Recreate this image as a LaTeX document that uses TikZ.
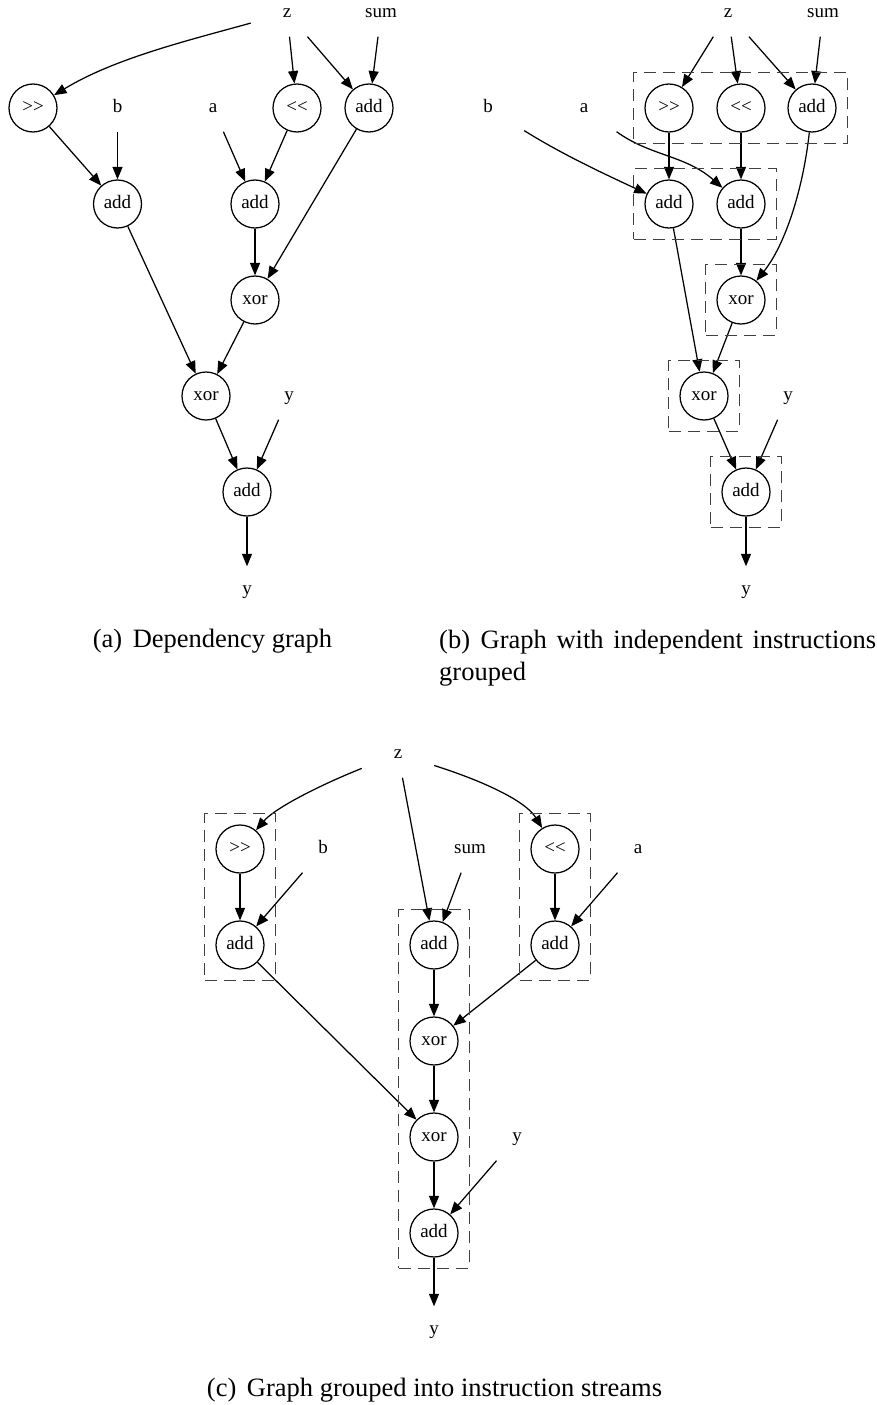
\documentclass[tikz,border=0pt]{standalone}
\usepackage{fontspec}
\setmainfont{Liberation Serif}
\usetikzlibrary{arrows.meta,fit}
\newcommand\mynodefont{\fontsize{19}{22}\selectfont}
\newcommand\mycapfont{\fontsize{26.5}{32}\selectfont}
\begin{document}
\begin{tikzpicture}[x=1pt,y=-1pt,
  op/.style={draw, circle, minimum size=48pt, inner sep=0pt, line width=1.25pt, font=\mynodefont, text height=13pt, text depth=4pt},
  lbl/.style={rectangle, minimum width=72pt, minimum height=47pt, inner sep=0pt, font=\mynodefont, text height=13pt, text depth=4pt},
  edge/.style={line width=1.25pt, -{Triangle[length=12.5pt,width=10pt]}},
  grp/.style={draw=black!75, line width=1.2pt, dash pattern=on 12pt off 7pt, inner sep=10.5pt},
  captext/.style={font=\mycapfont, inner sep=0pt}
]
\useasboundingbox (0,0) rectangle (876,1405);

% ---------------- panel (a) ----------------
\node[lbl] (az) at (287,13) {z};
\node[lbl] (asum) at (381,13) {sum};
\node[op] (ashr) at (33,108) {>\kern0pt>};
\node[lbl] (ab) at (117.5,108) {b};
\node[lbl] (aa) at (213,108) {a};
\node[op] (ashl) at (297,108) {<\kern0pt<};
\node[op] (aadds) at (369,108) {add};
\node[op] (aadd1) at (117.5,204) {add};
\node[op] (aadd2) at (255,204) {add};
\node[op] (axor1) at (255,300) {xor};
\node[op] (axor2) at (206,396) {xor};
\node[lbl] (ay) at (289,396) {y};
\node[op] (aadd3) at (247,492) {add};
\node[lbl] (ayo) at (247,590) {y};

\draw[edge] (az) .. controls (190,40) and (115,58) .. (ashr);
\draw[edge] (az) -- (ashl);
\draw[edge] (az) -- (aadds);
\draw[edge] (asum) -- (aadds);
\draw[edge] (ashr) -- (aadd1);
\draw[edge] (ab) -- (aadd1);
\draw[edge] (aa) -- (aadd2);
\draw[edge] (ashl) -- (aadd2);
\draw[edge] (aadds) -- (axor1);
\draw[edge] (aadd2) -- (axor1);
\draw[edge] (aadd1) -- (axor2);
\draw[edge] (axor1) -- (axor2);
\draw[edge] (axor2) -- (aadd3);
\draw[edge] (ay) -- (aadd3);
\draw[edge] (aadd3) -- (ayo);

% ---------------- panel (b) ----------------
\node[lbl] (bz) at (728,13) {z};
\node[lbl] (bsum) at (823,13) {sum};
\node[lbl] (bb) at (488,108) {b};
\node[lbl] (ba) at (584,108) {a};
\node[op] (bshr) at (669,108) {>\kern0pt>};
\node[op] (bshl) at (741,108) {<\kern0pt<};
\node[op] (badds) at (812,108) {add};
\node[op] (badd1) at (669,204) {add};
\node[op] (badd2) at (741,204) {add};
\node[op] (bxor1) at (741,300) {xor};
\node[op] (bxor2) at (704,396) {xor};
\node[lbl] (by) at (788,396) {y};
\node[op] (badd3) at (746,492) {add};
\node[lbl] (byo) at (746,590) {y};

\draw[edge] (bz) -- (bshr);
\draw[edge] (bz) -- (bshl);
\draw[edge] (bz) -- (badds);
\draw[edge] (bsum) -- (badds);
\draw[edge] (bb) .. controls (560,153) and (600,172) .. (badd1);
\draw[edge] (ba) .. controls (650,156) and (685,155) .. (badd2);
\draw[edge] (bshr) -- (badd1);
\draw[edge] (bshl) -- (badd2);
\draw[edge] (badds) .. controls (803,190) and (785,245) .. (bxor1);
\draw[edge] (badd1) -- (bxor2);
\draw[edge] (badd2) -- (bxor1);
\draw[edge] (bxor1) -- (bxor2);
\draw[edge] (bxor2) -- (badd3);
\draw[edge] (by) -- (badd3);
\draw[edge] (badd3) -- (byo);

\node[grp, fit=(bshr)(badds)] (bg1) {};
\node[grp, fit=(badd1)(badd2)] (bg2) {};
\node[grp, fit=(bxor1)] (bg3) {};
\node[grp, fit=(bxor2)] (bg4) {};
\node[grp, fit=(badd3)] (bg5) {};

% ---------------- panel (c) ----------------
\node[lbl] (cz) at (398,754) {z};
\node[op] (cshr) at (240,849) {>\kern0pt>};
\node[lbl] (cb) at (323,849) {b};
\node[lbl] (csum) at (470,849) {sum};
\node[op] (cshl) at (555,849) {<\kern0pt<};
\node[lbl] (ca) at (638,849) {a};
\node[op] (caddb) at (240,945) {add};
\node[op] (cadds) at (434,945) {add};
\node[op] (cadda) at (555,945) {add};
\node[op] (cxor1) at (434,1041) {xor};
\node[op] (cxor2) at (434,1137) {xor};
\node[lbl] (cy) at (517,1137) {y};
\node[op] (cadd3) at (434,1233) {add};
\node[lbl] (cyo) at (434,1330) {y};

\draw[edge] (cz) .. controls (320,785) and (275,808) .. (cshr);
\draw[edge] (cz) -- (cadds);
\draw[edge] (cz) .. controls (480,780) and (525,800) .. (cshl);
\draw[edge] (cshr) -- (caddb);
\draw[edge] (cb) -- (caddb);
\draw[edge] (csum) -- (cadds);
\draw[edge] (cshl) -- (cadda);
\draw[edge] (ca) -- (cadda);
\draw[edge] (cadds) -- (cxor1);
\draw[edge] (cadda) -- (cxor1);
\draw[edge] (caddb) -- (cxor2);
\draw[edge] (cxor1) -- (cxor2);
\draw[edge] (cxor2) -- (cadd3);
\draw[edge] (cy) -- (cadd3);
\draw[edge] (cadd3) -- (cyo);

\node[grp, fit=(cshr)(caddb)] (cg1) {};
\node[grp, fit=(cshl)(cadda)] (cg2) {};
\node[grp, fit=(cadds)(cadd3)] (cg3) {};

% ---------------- captions ----------------
\node[captext, anchor=base] (capa) at (212.5,647) {(a)\hspace{0.4em}Dependency graph};
\node[captext, anchor=base west, text width=437pt, align=justify] (capb) at (439,648) {(b)\hspace{0.4em}Graph with independent instructions grouped};
\node[captext, anchor=base] (capc) at (434.5,1396) {(c)\hspace{0.4em}Graph grouped into instruction streams};
\end{tikzpicture}
\end{document}
